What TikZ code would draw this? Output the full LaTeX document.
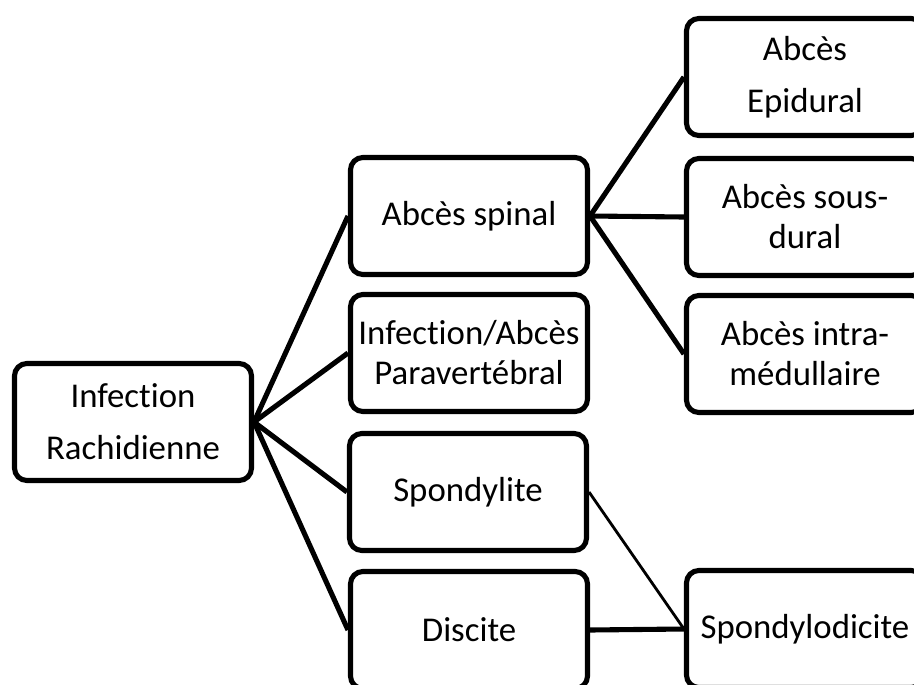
\documentclass[tikz,border=0pt]{standalone}
\usepackage{fontspec}
\setmainfont{Carlito}[Ligatures=NoCommon]
\usetikzlibrary{positioning}

\begin{document}
\begin{tikzpicture}[x=0.02cm, y=-0.02cm,
  cbox/.style={draw, line width=2.9pt, rounded corners=7pt, minimum width=4.74cm,
               minimum height=2.34cm, align=center, font=\fontsize{19.8}{22.8}\selectfont},
  loose/.style={font=\fontsize{19.8}{29.5}\selectfont},
  link/.style={line width=2.9pt},
  thinlink/.style={line width=1.6pt}]
  \useasboundingbox (0,0) rectangle (914,684);
  \clip (0,0) rectangle (914,684);

  % root
  \node[cbox, loose] (root) at (133,422) {Infection\\Rachidienne};

  % middle column
  \node[cbox] (spinal) at (469,216) {Abcès spinal};
  \node[cbox] (para) at (469,353) {Infection/Abcès\\Paravertébral};
  \node[cbox] (spondylite) at (468,492) {Spondylite};
  \node[cbox] (discite) at (469,630) {Discite};

  % right column
  \node[cbox, loose] (epidural) at (805,77) {Abcès\\Epidural};
  \node[cbox] (sousdural) at (805,217) {Abcès sous-\\dural};
  \node[cbox] (intra) at (805,354) {Abcès intra-\\médullaire};
  \node[cbox] (spondylodicite) at (805,629) {Spondylodicite};

  % connectors from root
  \draw[link] (root.east) -- (spinal.west);
  \draw[link] (root.east) -- (para.west);
  \draw[link] (root.east) -- (spondylite.west);
  \draw[link] (root.east) -- (discite.west);

  % connectors from spinal abscess
  \draw[link] (spinal.east) -- (epidural.west);
  \draw[link] (spinal.east) -- (sousdural.west);
  \draw[link] (spinal.east) -- (intra.west);

  % spondylodiscitis
  \draw[thinlink] (spondylite.east) -- (spondylodicite.west);
  \draw[link] (discite.east) -- (spondylodicite.west);
\end{tikzpicture}
\end{document}
